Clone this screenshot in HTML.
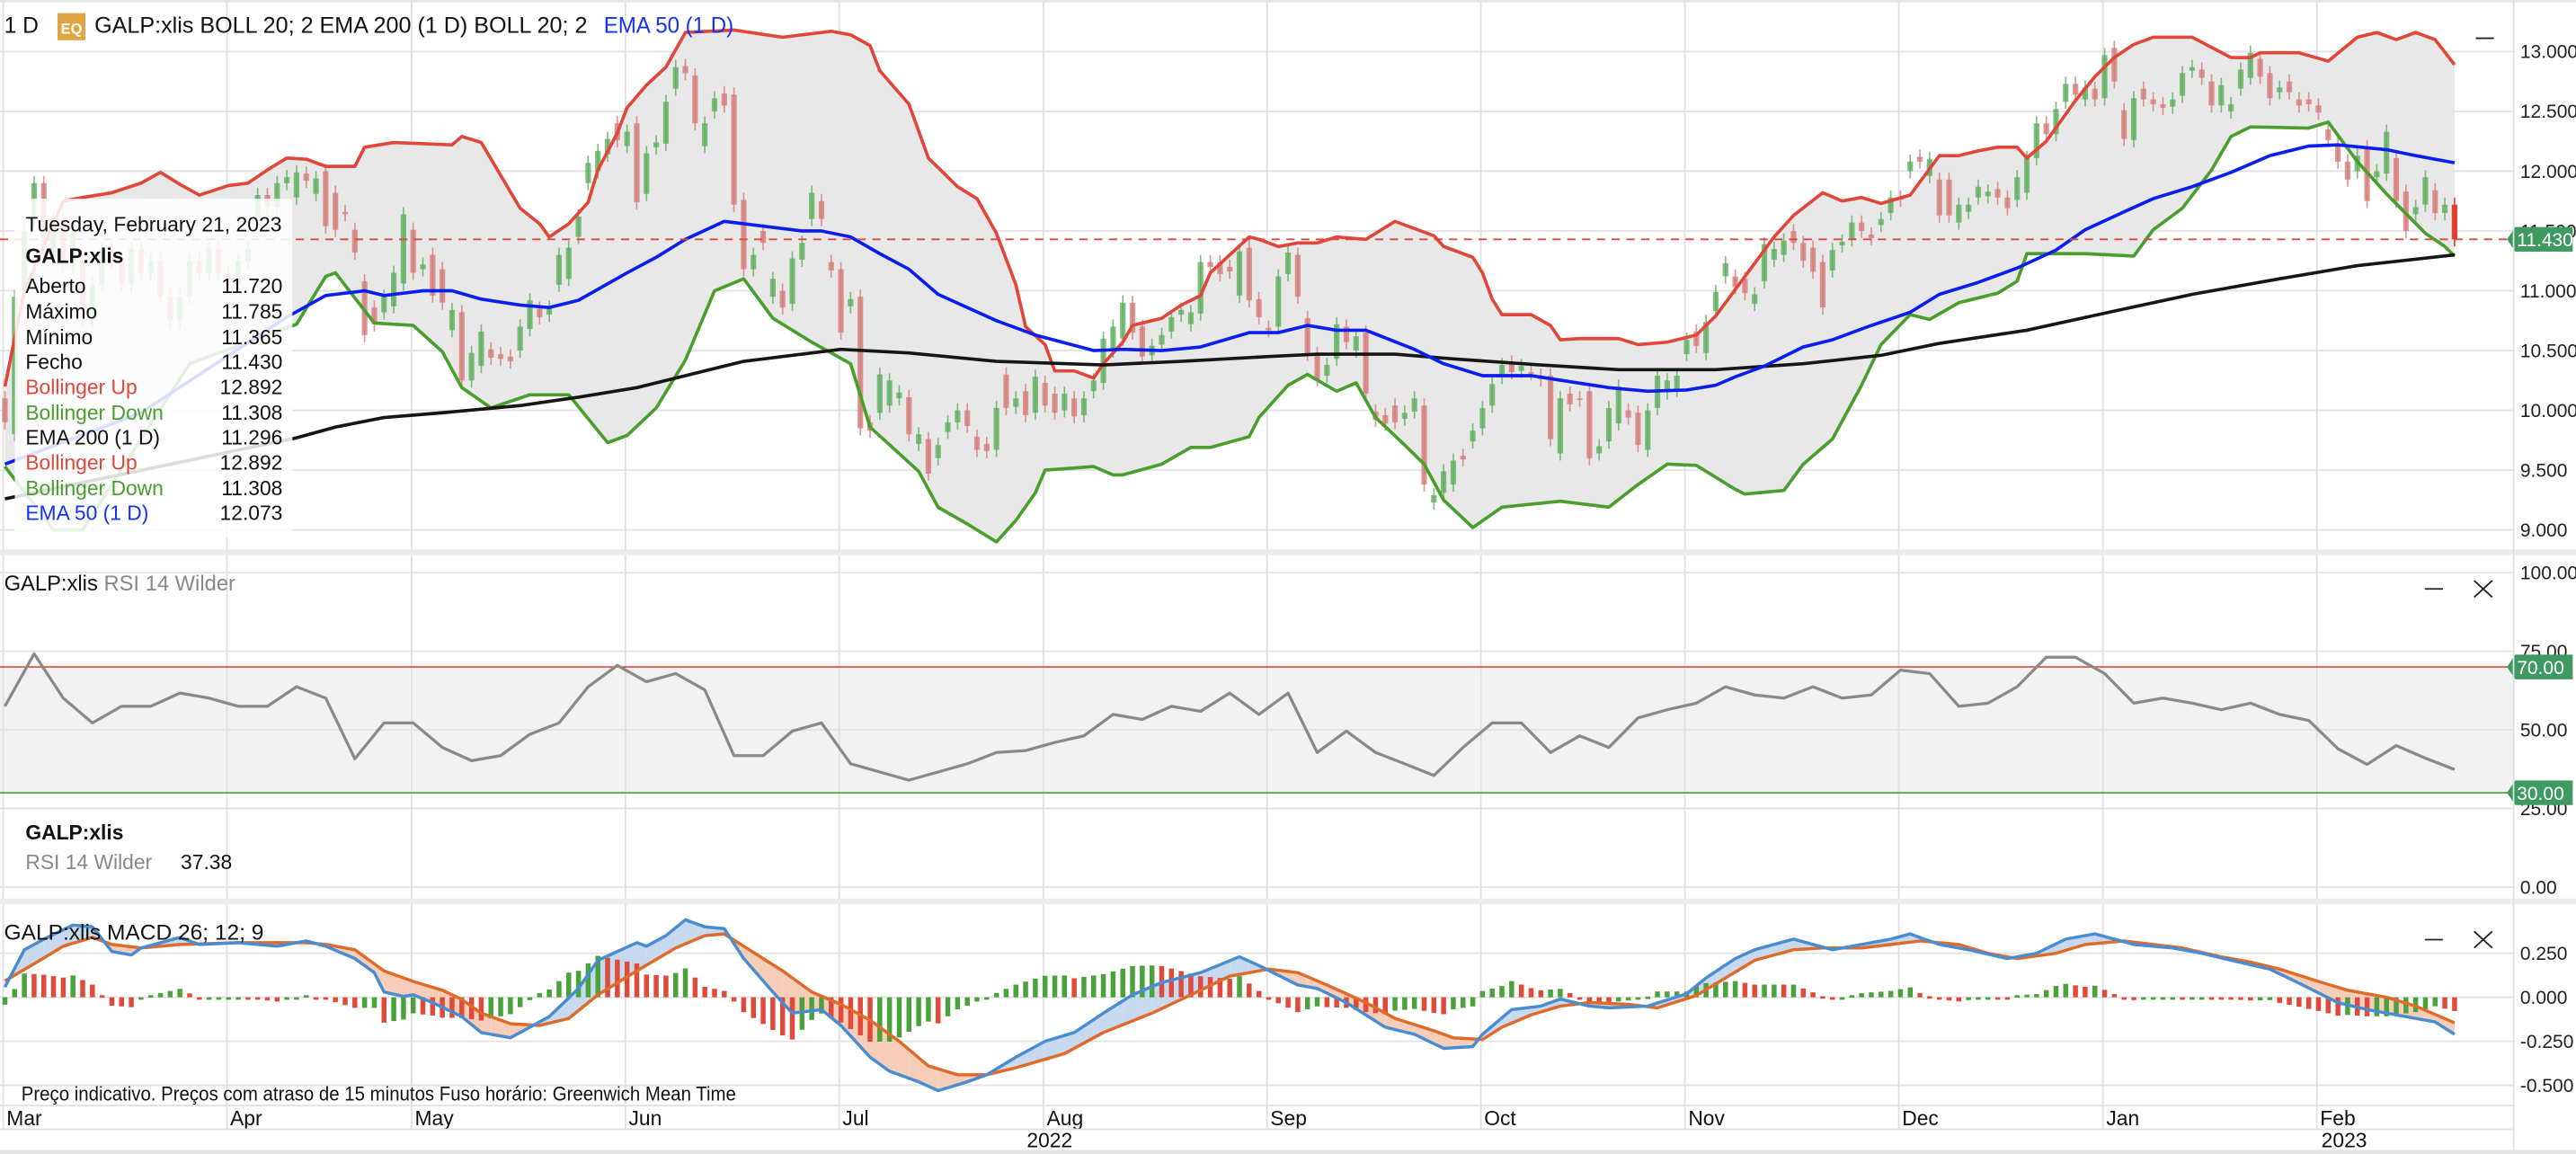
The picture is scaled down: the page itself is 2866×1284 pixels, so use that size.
<!DOCTYPE html>
<html><head><meta charset="utf-8"><style>
html,body{margin:0;padding:0;background:#fff;}
svg{display:block;font-family:"Liberation Sans",sans-serif;}
</style></head><body>
<svg id="chart" width="2866" height="1284" viewBox="0 0 1568 702.5" preserveAspectRatio="none" xmlns="http://www.w3.org/2000/svg">
<rect x="0" y="0" width="1568" height="702.5" fill="#ffffff"/>
<rect x="0" y="406.0" width="1530" height="76.6" fill="#f2f2f2"/>
<g id="grid"></g>
<g id="main"></g>
<g id="rsi"></g>
<g id="macd"></g>
<g id="axes"></g>
<rect x="0" y="334.5" width="1568" height="3.5" fill="#ececec"/>
<rect x="0" y="547" width="1568" height="3.5" fill="#ececec"/>
<rect x="0" y="0" width="1568" height="1.5" fill="#e6e6e6"/>
<line x1="0" y1="673" x2="1530" y2="673" stroke="#e2e2e2" stroke-width="1"/>
<line x1="0" y1="687.5" x2="1530" y2="687.5" stroke="#e2e2e2" stroke-width="1"/>
<rect x="0" y="700" width="1568" height="2.5" fill="#e4e4e4"/>
<line x1="1530" y1="0" x2="1530" y2="700" stroke="#e0e0e0" stroke-width="1"/>

<text x="2.5" y="20" font-size="13.5" fill="#111">1 D</text>
<rect x="35" y="8" width="17" height="16.5" fill="#e0a443"/>
<text x="37" y="20.5" font-size="9" fill="#fff" font-weight="bold">EQ</text>
<text x="57.5" y="20" font-size="13.5" fill="#111" textLength="300" lengthAdjust="spacingAndGlyphs">GALP:xlis  BOLL 20; 2  EMA 200 (1 D)  BOLL 20; 2</text>
<text x="367.5" y="20" font-size="13.5" fill="#1432f0" textLength="79" lengthAdjust="spacingAndGlyphs">EMA 50 (1 D)</text>
<line x1="1507" y1="23.3" x2="1518" y2="23.3" stroke="#222" stroke-width="1"/>

<g>
<rect x="9" y="121" width="169" height="206" fill="#ffffff" fill-opacity="0.85"/>
<g font-size="12.5" fill="#111">
<text x="15.5" y="141" textLength="156" lengthAdjust="spacingAndGlyphs">Tuesday, February 21, 2023</text>
<text x="15.5" y="160" font-weight="bold">GALP:xlis</text>
<text x="15.5" y="178.5">Aberto</text>
<text x="172" y="178.5" text-anchor="end">11.720</text>
<text x="15.5" y="194">Máximo</text>
<text x="172" y="194" text-anchor="end">11.785</text>
<text x="15.5" y="209.5">Mínimo</text>
<text x="172" y="209.5" text-anchor="end">11.365</text>
<text x="15.5" y="224.5">Fecho</text>
<text x="172" y="224.5" text-anchor="end">11.430</text>
<text x="15.5" y="240" fill="#e0473a">Bollinger Up</text>
<text x="172" y="240" text-anchor="end">12.892</text>
<text x="15.5" y="255.5" fill="#4a9e2e">Bollinger Down</text>
<text x="172" y="255.5" text-anchor="end">11.308</text>
<text x="15.5" y="270.5">EMA 200 (1 D)</text>
<text x="172" y="270.5" text-anchor="end">11.296</text>
<text x="15.5" y="286" fill="#e0473a">Bollinger Up</text>
<text x="172" y="286" text-anchor="end">12.892</text>
<text x="15.5" y="301.5" fill="#4a9e2e">Bollinger Down</text>
<text x="172" y="301.5" text-anchor="end">11.308</text>
<text x="15.5" y="316.5" fill="#1432f0">EMA 50 (1 D)</text>
<text x="172" y="316.5" text-anchor="end">12.073</text>
</g></g>

<text x="2.5" y="359.5" font-size="13" fill="#111">GALP:xlis <tspan fill="#888">RSI 14 Wilder</tspan></text>
<line x1="1476" y1="358.5" x2="1487" y2="358.5" stroke="#222" stroke-width="1"/>
<path d="M1506,353.5 L1517,363.5 M1517,353.5 L1506,363.5" stroke="#222" stroke-width="1" fill="none"/>
<text x="15.5" y="511" font-size="12.5" font-weight="bold" fill="#111">GALP:xlis</text>
<text x="15.5" y="529" font-size="12.5" fill="#888">RSI 14 Wilder</text>
<text x="110" y="529" font-size="12.5" fill="#111">37.38</text>

<text x="2.5" y="572" font-size="13" fill="#111" textLength="158" lengthAdjust="spacingAndGlyphs">GALP:xlis  MACD 26; 12; 9</text>
<line x1="1476" y1="572" x2="1487" y2="572" stroke="#222" stroke-width="1"/>
<path d="M1506,567 L1517,577 M1517,567 L1506,577" stroke="#222" stroke-width="1" fill="none"/>

<text x="13" y="670" font-size="12" fill="#111" textLength="435" lengthAdjust="spacingAndGlyphs">Preço indicativo. Preços com atraso de 15 minutos    Fuso horário: Greenwich Mean Time</text>
<text x="625" y="698.5" font-size="12.5" fill="#111">2022</text>
<text x="1413" y="698.5" font-size="12.5" fill="#111">2023</text>
</svg>
<script>
// ---------- DATA ----------
const opens = [10.1,9.8,11.0,11.6,11.9,11.3,11.6,11.2,11.25,10.75,11.05,11.35,11.25,11.05,11.35,11.15,11.25,10.95,10.75,10.95,11.25,11.15,11.35,11.15,11.05,11.25,11.6,11.8,11.7,11.9,
11.78,11.98,11.81,12.0,11.82,11.66,11.51,11.08,10.86,10.82,10.87,11.06,11.51,11.18,11.3,11.18,10.67,10.82,10.25,10.37,10.51,10.47,10.45,10.5,10.68,10.85,10.8,11.05,11.1,11.45,11.9,12.0,12.14,12.4,12.21,12.4,11.81,12.2,12.23,12.69,12.88,12.8,12.21,12.5,12.65,12.64,11.76,11.18,11.5,10.95,11.0,10.89,11.26,11.6,11.75,11.24,11.18,
10.87,10.95,9.9,9.98,10.04,10.1,10.11,9.72,9.76,9.6,9.82,9.9,10.0,9.78,9.72,9.67,10.3,10.03,10.16,9.98,10.23,10.14,10.0,10.1,9.96,10.16,10.23,10.5,10.6,10.9,10.7,10.46,10.55,10.66,10.8,10.72,10.81,11.24,11.24,11.2,10.96,11.36,10.93,10.69,10.7,11.14,11.3,10.77,10.47,10.29,10.43,10.7,10.5,10.65,9.99,9.96,10.04,9.93,9.99,10.04,9.23,9.31,9.38,9.62,9.74,9.85,10.04,10.28,10.4,10.33,10.32,10.29,10.29,9.64,10.14,10.1,10.16,9.64,9.74,9.89,10.0,9.98,9.67,10.02,10.15,10.17,10.47,
10.66,10.48,10.83,11.12,11.12,11.1,10.89,11.08,11.26,11.3,11.5,11.4,11.36,11.24,11.17,11.38,11.43,11.57,11.47,11.55,11.65,11.78,12.0,12.12,11.96,11.93,11.93,11.57,11.66,11.78,11.79,11.85,11.78,11.76,11.82,12.11,12.4,12.31,12.58,12.73,12.6,12.69,12.61,13.03,12.51,12.26,12.69,12.6,12.56,12.54,12.63,12.84,12.85,12.75,12.55,12.5,12.69,12.78,12.94,12.82,12.66,12.75,12.6,12.6,12.55,12.35,12.23,12.08,12.0,12.2,11.95,11.98,12.11,11.83,11.64,11.72,11.84,11.65,11.72];
const closes = [9.9,10.95,11.5,11.9,11.3,11.6,11.2,11.5,10.75,11.05,11.35,11.25,11.05,11.35,11.15,11.25,10.95,10.75,10.95,11.25,11.15,11.35,11.15,11.05,11.25,11.35,11.8,11.7,11.9,11.95,
11.99,11.92,11.94,11.54,11.51,11.64,11.32,10.63,10.72,10.95,11.15,11.64,11.15,11.22,10.96,10.9,10.84,10.25,10.48,10.66,10.44,10.43,10.41,10.7,10.92,10.78,10.86,11.3,11.36,11.62,12.07,12.17,12.27,12.26,12.33,11.74,12.15,12.24,12.58,12.87,12.82,12.4,12.4,12.61,12.55,11.72,11.18,11.3,11.4,11.1,10.86,11.27,11.4,11.82,11.6,11.17,10.65,
10.93,9.85,9.83,10.3,10.25,10.15,9.8,9.8,9.47,9.71,9.9,10.0,9.87,9.67,9.66,10.02,10.02,10.1,9.96,10.28,10.04,9.98,10.14,9.95,10.1,10.25,10.6,10.7,10.9,10.65,10.45,10.54,10.63,10.78,10.84,10.82,11.24,11.2,11.14,11.16,11.33,10.92,10.78,10.67,11.12,11.32,10.95,10.47,10.26,10.38,10.72,10.57,10.62,10.14,9.92,9.89,9.9,9.98,10.1,9.38,9.29,9.49,9.58,9.59,9.83,10.02,10.22,10.38,10.32,10.37,10.31,10.26,9.76,10.1,10.05,10.09,9.6,9.7,10.02,10.2,9.94,9.71,10.0,10.29,10.25,10.29,10.59,
10.54,10.74,10.99,11.23,11.03,10.98,10.97,11.39,11.35,11.42,11.4,11.25,11.16,10.86,11.34,11.41,11.57,11.5,11.44,11.6,11.78,11.76,12.08,12.08,12.1,11.63,11.63,11.72,11.72,11.87,11.83,11.78,11.69,11.95,12.11,12.4,12.31,12.52,12.73,12.64,12.7,12.6,12.97,12.75,12.27,12.61,12.6,12.56,12.53,12.6,12.82,12.87,12.78,12.55,12.72,12.56,12.85,12.99,12.79,12.61,12.7,12.66,12.55,12.56,12.49,12.26,12.08,11.93,12.13,11.75,12.0,12.33,11.75,11.5,11.7,11.95,11.65,11.72,11.43];

const upDays = [0,2,6,8,11,14,16,18,20,23,25,27,29,31,33,36,37,40,46,47,49,53,55,56,58,60,61,63,64,66,68,70,75,80,85,87,89,90,93,95,96,98,100,102,104,105,107,108,110,112,113,115,116,119,121,123,124,128,129,131,133,135,137,140,143,145,147,148,151,152,153,154,157,159,160,162,166,168,171,174,176,179,182,184,187,189,191,193,196,199,201,203,205,207,208,210,213,215,217,219,221,225,229,231,232,236,239,242,244,246,248,250,252];
const upVals = [10.2,11.0,11.75,11.78,11.82,11.9,11.99,11.89,11.8,11.88,11.9,12.01,12.11,12.1,12.04,12.04,12.2,12.24,12.22,12.29,12.24,11.69,11.56,11.45,11.56,11.74,12.01,12.32,12.53,12.72,12.87,13.16,13.18,13.12,13.17,13.14,13.05,12.84,12.56,12.11,12.03,11.87,11.77,11.48,11.05,10.7,10.55,10.33,10.33,10.27,10.39,10.57,10.71,10.77,10.88,10.96,11.15,11.45,11.43,11.37,11.4,11.4,11.45,11.43,11.58,11.52,11.46,11.37,11.28,11.15,10.93,10.8,10.8,10.71,10.59,10.6,10.6,10.55,10.57,10.63,10.79,11.12,11.45,11.63,11.82,11.75,11.78,11.73,11.8,12.13,12.13,12.17,12.2,12.2,12.11,12.25,12.59,12.79,12.95,13.06,13.12,13.12,12.95,12.95,12.99,12.99,12.92,13.12,13.16,13.1,13.16,13.1,12.89];
const lowDays = [0,5,8,19,30,33,34,38,42,45,47,50,54,58,62,64,67,70,73,76,79,83,87,89,94,96,99,102,104,106,107,112,114,115,119,122,124,128,129,132,134,137,139,141,144,146,148,151,154,160,165,168,171,174,178,179,183,185,188,191,193,196,198,201,205,207,208,214,219,221,224,227,229,231,237,239,242,245,249,251,252];
const lowVals = [9.53,9.0,9.0,10.39,10.72,11.12,11.15,10.73,10.71,10.49,10.19,10.02,10.13,10.13,9.73,9.79,10.02,10.42,11.0,11.1,10.77,10.57,10.39,9.86,9.49,9.19,9.05,8.9,9.08,9.31,9.5,9.53,9.46,9.46,9.55,9.69,9.69,9.78,9.94,10.21,10.3,10.16,10.23,9.94,9.71,9.55,9.25,9.02,9.19,9.24,9.19,9.38,9.55,9.54,9.34,9.3,9.33,9.55,9.76,10.21,10.55,10.8,10.76,10.9,10.98,11.08,11.31,11.31,11.29,11.51,11.69,12.01,12.29,12.37,12.36,12.41,12.08,11.81,11.48,11.37,11.29];
const ema50Days = [0,14,29,33,37,39,43,46,49,53,56,59,64,67,70,74,76,82,84,87,90,93,96,102,106,112,115,119,123,128,131,134,137,140,145,148,152,157,161,165,169,173,176,178,181,185,188,192,196,199,203,207,211,214,218,221,225,229,233,237,240,245,248,252];
const ema50Vals = [9.55,9.98,10.78,10.96,11.0,10.96,11.0,11.0,10.93,10.88,10.86,10.92,11.15,11.28,11.43,11.58,11.56,11.5,11.5,11.45,11.31,11.18,10.97,10.75,10.63,10.5,10.51,10.5,10.53,10.65,10.65,10.71,10.67,10.67,10.51,10.39,10.29,10.29,10.24,10.19,10.16,10.17,10.21,10.28,10.37,10.53,10.59,10.71,10.82,10.97,11.07,11.19,11.34,11.51,11.66,11.77,11.87,11.99,12.13,12.21,12.22,12.18,12.13,12.07];
const ema200Days = [0,30,34,39,45,53,59,65,71,76,82,86,93,102,113,121,130,135,143,149,158,166,176,185,193,199,208,217,225,234,242,252];
const ema200Vals = [9.26,9.77,9.86,9.94,9.98,10.04,10.11,10.19,10.31,10.41,10.47,10.51,10.48,10.41,10.38,10.41,10.45,10.47,10.47,10.43,10.38,10.34,10.34,10.39,10.46,10.56,10.67,10.83,10.97,11.1,11.21,11.3];
const lastPrice = 11.43;

const rsiDays = [0,3,6,9,12,15,18,21,24,27,30,33,36,39,42,45,48,51,54,57,60,63,66,69,72,75,78,81,84,87,90,93,96,99,102,105,108,111,114,117,120,123,126,129,132,135,138,141,144,147,150,153,156,159,162,165,168,171,174,177,180,183,186,189,192,195,198,201,204,207,210,213,216,219,222,225,228,231,234,237,240,243,246,249,252];
const rsiVals = [57.5,74.2,60.1,52.2,57.5,57.5,61.7,60.1,57.5,57.5,63.7,60.1,40.8,52.2,52.2,44.4,40.2,41.8,48.6,52.2,63.7,70.5,65.3,67.9,62.7,41.8,41.8,49.6,52.2,39.2,36.6,34.0,36.6,39.2,42.8,43.4,46.0,48.1,54.9,53.3,57.5,55.9,61.7,54.9,61.7,42.8,49.6,42.8,39.2,35.5,44.4,52.2,52.2,42.8,48.1,44.4,53.8,56.4,58.5,63.7,61.1,60.1,63.7,60.1,61.1,69.0,67.9,57.5,58.5,63.7,73.1,73.1,67.9,58.5,60.1,58.5,56.4,58.5,54.9,53.0,44.0,39.0,45.0,41.0,37.4];
const rsiUpper = 70, rsiLower = 30;

const macdDays = [0,2,4,7,9,11,13,14,16,18,20,24,28,31,33,36,38,39,41,42,44,47,49,52,54,56,59,61,65,66,68,70,72,74,76,79,81,84,86,89,91,94,96,99,101,104,107,110,113,116,119,123,127,129,133,135,138,142,145,148,151,152,155,158,160,163,165,169,173,175,178,180,184,188,191,194,196,199,202,206,209,212,215,219,223,226,229,233,236,240,243,246,250,252];
const macdVals = [0.058,0.27,0.33,0.41,0.40,0.26,0.24,0.28,0.31,0.34,0.30,0.31,0.29,0.32,0.29,0.22,0.14,0.03,0.005,0.014,-0.03,-0.11,-0.20,-0.23,-0.17,-0.11,0.05,0.21,0.31,0.29,0.35,0.44,0.40,0.39,0.22,0.03,-0.09,-0.07,-0.16,-0.34,-0.42,-0.48,-0.53,-0.48,-0.44,-0.34,-0.25,-0.20,-0.09,0.014,0.084,0.14,0.23,0.18,0.07,0.05,-0.03,-0.17,-0.21,-0.29,-0.28,-0.21,-0.07,-0.05,-0.01,-0.05,-0.06,-0.05,0.02,0.11,0.22,0.27,0.33,0.27,0.30,0.33,0.36,0.30,0.27,0.22,0.25,0.33,0.36,0.30,0.28,0.25,0.21,0.16,0.08,-0.03,-0.07,-0.10,-0.14,-0.21];
const sigDays = [0,3,6,9,11,14,18,24,31,33,36,39,42,45,47,49,52,55,58,61,65,69,72,74,76,80,83,86,89,92,95,98,101,104,109,113,118,122,126,130,133,136,140,143,147,149,152,154,157,160,163,167,170,174,177,180,184,187,191,194,197,201,204,207,211,214,218,221,224,228,231,234,238,241,245,248,252];
const sigVals = [0.093,0.19,0.29,0.34,0.30,0.28,0.30,0.31,0.31,0.30,0.27,0.15,0.09,0.04,-0.012,-0.09,-0.15,-0.16,-0.12,0.014,0.15,0.28,0.35,0.36,0.29,0.15,0.03,-0.04,-0.13,-0.25,-0.39,-0.44,-0.44,-0.40,-0.32,-0.20,-0.09,0.014,0.12,0.16,0.14,0.07,-0.03,-0.12,-0.19,-0.23,-0.24,-0.17,-0.10,-0.05,-0.03,-0.04,-0.06,0.01,0.11,0.21,0.27,0.28,0.28,0.30,0.32,0.30,0.25,0.22,0.25,0.30,0.32,0.30,0.28,0.23,0.20,0.16,0.09,0.04,0.0,-0.05,-0.145];

const monthDays = [0,23,42,64,86,107,130,152,173,195,216,238];
const monthLabels = ['Mar','Apr','May','Jun','Jul','Aug','Sep','Oct','Nov','Dec','Jan','Feb'];
const priceTicks = [13.0,12.5,12.0,11.5,11.0,10.5,10.0,9.5,9.0];
const priceTickLabels = ['13.000','12.500','12.000','11.500','11.000','10.500','10.000','9.500','9.000'];
const rsiTicks = [100,75,50,25,0];
const rsiTickLabels = ['100.00','75.00','50.00','25.00','0.00'];
const macdTicks = [0.25,0,-0.25,-0.5];
const macdTickLabels = ['0.250','0.000','-0.250','-0.500'];

// ---------- AXES ----------
const NS='http://www.w3.org/2000/svg';
function xd(d){return 3+d*5.917;}
function yP(p){return 31.4+(13-p)*72.8;}
function yR(v){return 348.6+(100-v)*1.914;}
function yM(v){return 607.1-v*107.2;}
function mk(tag,attrs,parent){const e=document.createElementNS(NS,tag);for(const k in attrs)e.setAttribute(k,attrs[k]);parent.appendChild(e);return e;}
function pts(days,vals,yf){return days.map((d,i)=>xd(d).toFixed(2)+','+yf(vals[i]).toFixed(2)).join(' ');}
function interp(days,vals,d){if(d<=days[0])return vals[0];for(let i=1;i<days.length;i++){if(d<=days[i]){const t=(d-days[i-1])/(days[i]-days[i-1]);return vals[i-1]+t*(vals[i]-vals[i-1]);}}return vals[vals.length-1];}

const grid=document.getElementById('grid');
const mainG=document.getElementById('main');
const rsiG=document.getElementById('rsi');
const macdG=document.getElementById('macd');
const axes=document.getElementById('axes');

// horizontal grid
priceTicks.forEach((t,i)=>{
  const l=mk('line',{x1:0,x2:1530,y1:yP(t),y2:yP(t),stroke:'#e2e2e2','stroke-width':1},grid);
  
  
  const tx=mk('text',{x:1534,y:yP(t)+4,'font-size':11.5,fill:'#222'},axes);
  
  
  tx.textContent=priceTickLabels[i];
});
rsiTicks.forEach((t,i)=>{
  const l=mk('line',{x1:0,x2:1530,y1:yR(t),y2:yR(t),stroke:'#e2e2e2','stroke-width':1},grid);
  
  
  const tx=mk('text',{x:1534,y:yR(t)+4,'font-size':11.5,fill:'#222'},axes);
  
  
  tx.textContent=rsiTickLabels[i];
});
macdTicks.forEach((t,i)=>{
  const l=mk('line',{x1:0,x2:1530,y1:yM(t),y2:yM(t),stroke:'#e2e2e2','stroke-width':1},grid);
  
  
  const tx=mk('text',{x:1534,y:yM(t)+4,'font-size':11.5,fill:'#222'},axes);
  
  
  tx.textContent=macdTickLabels[i];
});
monthDays.forEach((d,i)=>{
  const l=mk('line',{x1:xd(d)-1,x2:xd(d)-1,y1:0,y2:688,stroke:'#e0e0e0','stroke-width':1},grid);
  
  
  const tx=mk('text',{x:xd(d)+1,y:685,'font-size':12.5,fill:'#111'},axes);
  
  
  tx.textContent=monthLabels[i];
});

// ---------- MAIN PANE ----------
const fill=mk('polygon',{points:pts(upDays,upVals,yP)+' '+pts(lowDays.slice().reverse(),lowVals.slice().reverse(),yP),fill:'#e8e8e8'},mainG);



for(let i=0;i<closes.length;i++){
  const o=opens[i],c=closes[i];
  const up=c>=o;
  const last=i===closes.length-1;
  const col=last?'#e0402f':(up?'#5fae5f':'#d57c78');
  const op=last?1:0.8;
  const x=xd(i);
  const w=mk('line',{x1:x,x2:x,y1:yP(Math.max(o,c)+0.06),y2:yP(Math.min(o,c)-0.06),stroke:col,'stroke-width':0.9,'stroke-opacity':op},mainG);
  
  
  const h=Math.max(Math.abs(yP(o)-yP(c)),1);
  const b=mk('rect',{x:x-1.7,y:Math.min(yP(o),yP(c)),width:3.4,height:h,fill:col,'fill-opacity':op},mainG);
  
  
}
const lines=[[upDays,upVals,'#e0473a','bollinger-upper'],[lowDays,lowVals,'#4a9e2e','bollinger-lower'],[ema200Days,ema200Vals,'#161616','ema-200-line'],[ema50Days,ema50Vals,'#0a1ef0','ema-50-line']];
lines.forEach(L=>{
  const p=mk('polyline',{points:pts(L[0],L[1],yP),fill:'none',stroke:L[2],'stroke-width':2,'stroke-linejoin':'round'},mainG);
  
  
});
const dash=mk('line',{x1:0,x2:1527,y1:yP(lastPrice),y2:yP(lastPrice),stroke:'#e0473a','stroke-width':1,'stroke-dasharray':'5,4'},mainG);



function tag(y,label,name){
  const g=mk('g',{},axes);
  
  
  mk('polygon',{points:`1526,${y} 1531,${y-7.5} 1566,${y-7.5} 1566,${y+7.5} 1531,${y+7.5}`,fill:'#3f9a62'},g);
  const t=mk('text',{x:1532,y:y+4.3,'font-size':11.5,fill:'#fff'},g);
  t.textContent=label;
}
tag(yP(lastPrice),'11.430','last-price-tag');

// ---------- RSI ----------
const l70=mk('line',{x1:0,x2:1530,y1:yR(rsiUpper),y2:yR(rsiUpper),stroke:'#e0473a','stroke-width':0.9},rsiG);


const l30=mk('line',{x1:0,x2:1530,y1:yR(rsiLower),y2:yR(rsiLower),stroke:'#4a9e2e','stroke-width':0.9},rsiG);


const rl=mk('polyline',{points:pts(rsiDays,rsiVals,yR),fill:'none',stroke:'#8a8a8a','stroke-width':1.8,'stroke-linejoin':'round'},rsiG);


tag(yR(rsiUpper),'70.00','rsi-70-tag');
tag(yR(rsiLower),'30.00','rsi-30-tag');

// ---------- MACD ----------
const N=closes.length;
let prevH=null;
for(let d=0;d<N;d++){
  const m=interp(macdDays,macdVals,d), s=interp(sigDays,sigVals,d);
  if(d<N-1){
    const m2=interp(macdDays,macdVals,d+1), s2=interp(sigDays,sigVals,d+1);
    const poly=mk('polygon',{points:`${xd(d)},${yM(m)} ${xd(d+1)},${yM(m2)} ${xd(d+1)},${yM(s2)} ${xd(d)},${yM(s)}`,fill:((m+m2)>(s+s2))?'#c6d9ee':'#f6cdb8'},macdG);
    
    
  }
  const h=1.2*(m-s);
  const col=(prevH===null||h>=prevH)?'#4aa23a':'#e04a3a';
  prevH=h;
  const y0=yM(0), y1=yM(h);
  const bar=mk('rect',{x:xd(d)-1.5,y:Math.min(y0,y1),width:3,height:Math.max(Math.abs(y1-y0),1.5),fill:col},macdG);
  
  
}
const sl=mk('polyline',{points:pts(sigDays,sigVals,yM),fill:'none',stroke:'#e06a2a','stroke-width':1.9,'stroke-linejoin':'round'},macdG);


const ml=mk('polyline',{points:pts(macdDays,macdVals,yM),fill:'none',stroke:'#4a8cd2','stroke-width':1.9,'stroke-linejoin':'round'},macdG);


</script>
</body></html>
